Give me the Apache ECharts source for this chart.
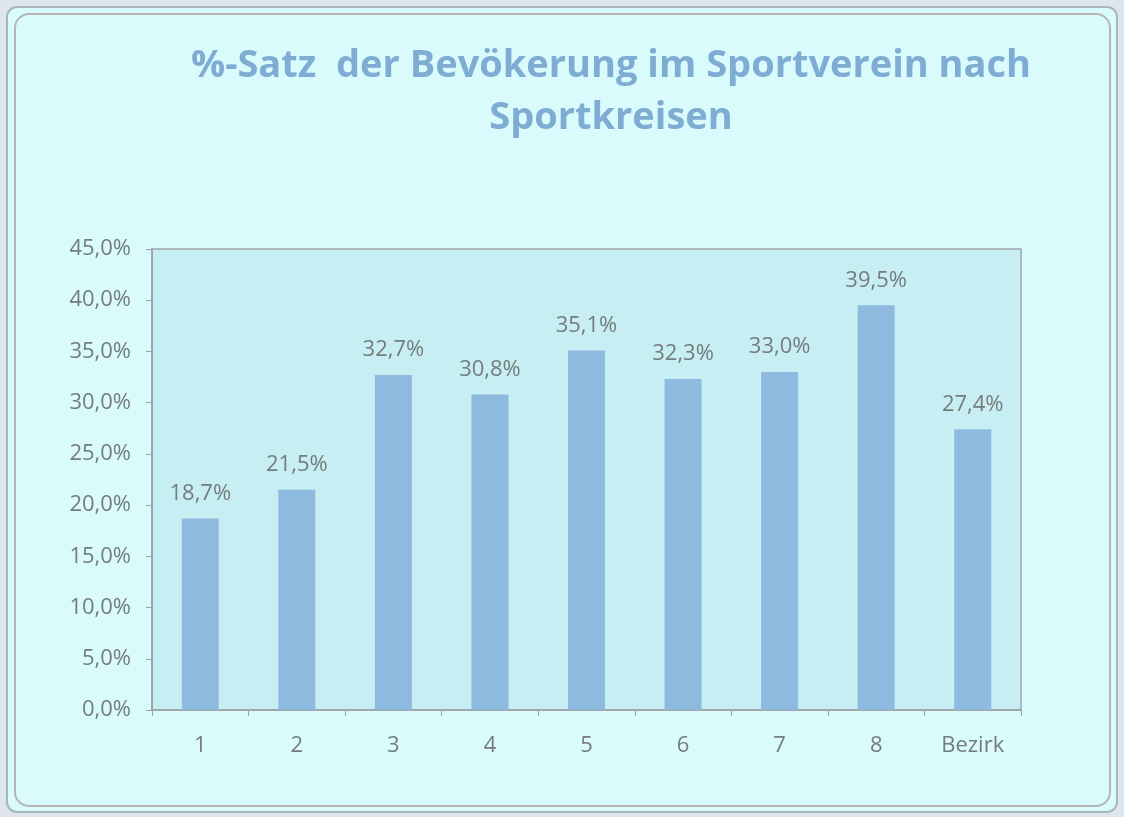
<!DOCTYPE html>
<html><head><meta charset="utf-8">
<script src="https://cdn.jsdelivr.net/npm/echarts@6/dist/echarts.min.js"></script>
<style>html,body{margin:0;padding:0;background:#dde6ee;}#c{width:1124px;height:817px;}</style>
</head><body><div id="c"></div>
<script>
const categories = ['1','2','3','4','5','6','7','8','Bezirk'];
const values = [18.7, 21.5, 32.7, 30.8, 35.1, 32.3, 33.0, 39.5, 27.4];
const titleText = '%-Satz  der Bevökerung im Sportverein nach\nSportkreisen';

const chart = echarts.init(document.getElementById('c'));
chart.setOption({
  backgroundColor: '#dde6ee',
  graphic: [
    {type:'rect', shape:{x:7,y:7,width:1110,height:805,r:10}, style:{fill:'#d9fbfc', stroke:'#a9b6bd', lineWidth:2}, z:-10},
    {type:'rect', shape:{x:15,y:14,width:1095,height:792,r:14}, style:{fill:'#d9fbfc', stroke:'#b5b5b5', lineWidth:2}, z:-9}
  ],
  title: {
    text: titleText, left: 606, top: 35, textAlign: 'center',
    textStyle: {fontFamily: 'Open Sans', fontWeight: 'bold', fontSize: 38, color: '#7eacd2', lineHeight: 52}
  },
  grid: {left:152, right:103, top:249, bottom:107, show:true, backgroundColor:'#c7eef3', borderColor:'#a0a8aa', borderWidth:1.5},
  xAxis: {
    type:'category', data:categories,
    axisLine:{lineStyle:{color:'#9aa2a4', width:1.5}},
    axisTick:{show:true, length:6, lineStyle:{color:'#9aa2a4'}},
    axisLabel:{color:'#767c7c', fontSize:22, fontFamily:'Open Sans', margin:25}
  },
  yAxis: {
    type:'value', min:0, max:45, interval:5,
    axisLine:{show:true, lineStyle:{color:'#9aa2a4', width:1.5}},
    axisTick:{show:true, length:6, lineStyle:{color:'#9aa2a4'}},
    splitLine:{show:false},
    axisLabel:{color:'#767c7c', fontSize:22, fontFamily:'Open Sans', margin:21,
      formatter: v => v.toFixed(1).replace('.', ',') + '%'}
  },
  series: [{
    type:'bar', data:values, barWidth:37,
    itemStyle:{color:'#8fbadf'},
    label:{show:true, position:'top', distance:14, color:'#767c7c', fontSize:22, fontFamily:'Open Sans',
      formatter: p => p.value.toFixed(1).replace('.', ',') + '%'}
  }]
});
</script></body></html>
